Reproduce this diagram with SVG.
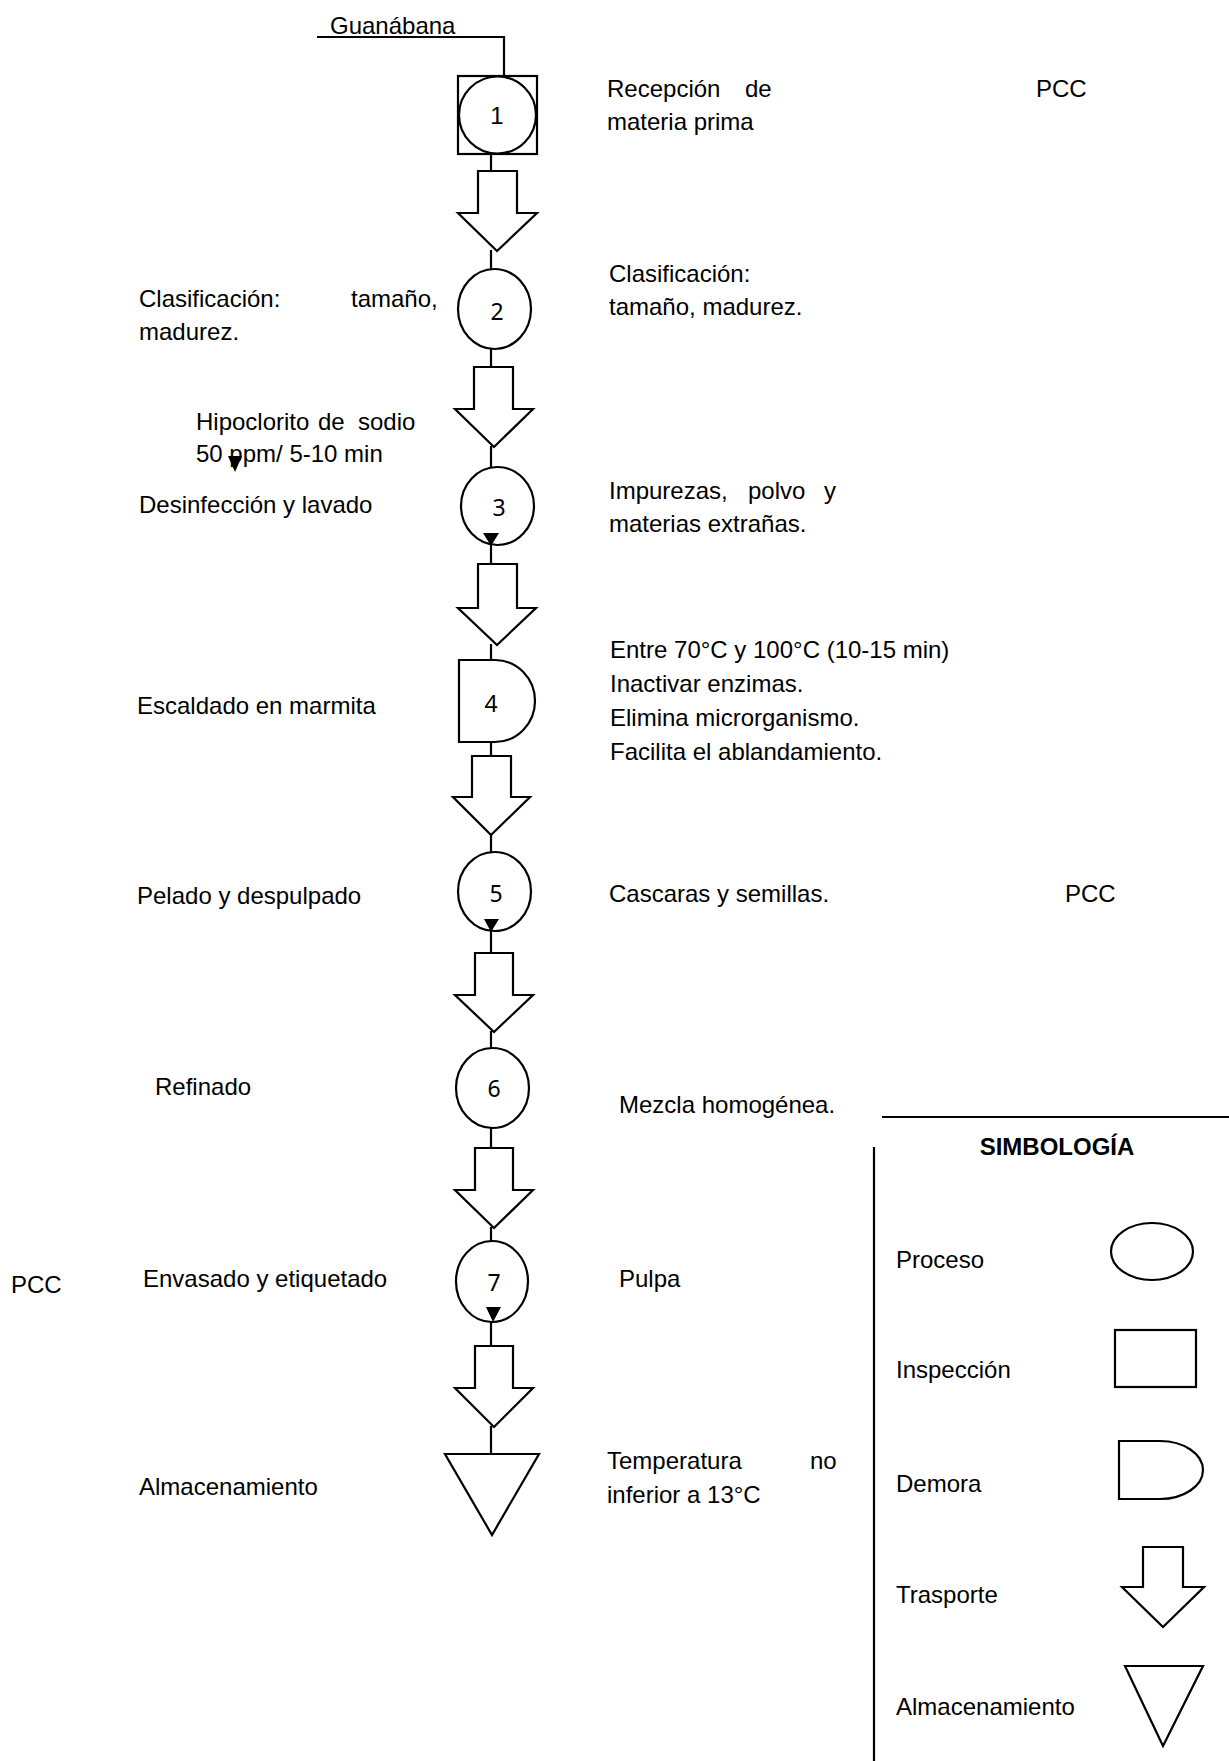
<svg xmlns="http://www.w3.org/2000/svg" width="1229" height="1761" viewBox="0 0 1229 1761">
<style>
text{font-family:"Liberation Sans",Arial,sans-serif;font-size:24px;fill:#000}
.num{font-family:"Noto Sans","DejaVu Sans",sans-serif;font-size:23px;text-anchor:middle}
.num1{font-family:"Liberation Sans",Arial,sans-serif;font-size:24px;text-anchor:middle}
.shape{fill:#fff;stroke:#000;stroke-width:2.2}
.conn{fill:none;stroke:#000;stroke-width:2.2}
.mk{fill:#000;stroke:none}
.bold{font-weight:bold;text-anchor:middle}
</style>
<rect width="1229" height="1761" fill="#fff"/>

<g id="connectors">
<polyline class="conn" points="317,37 504,37 504,76"/>
<line class="conn" x1="491" y1="154" x2="491" y2="171"/>
<line class="conn" x1="491" y1="250" x2="491" y2="269"/>
<line class="conn" x1="491" y1="349" x2="491" y2="367"/>
<line class="conn" x1="491" y1="446" x2="491" y2="467"/>
<line class="conn" x1="491" y1="545" x2="491" y2="564"/>
<line class="conn" x1="491" y1="644" x2="491" y2="660"/>
<line class="conn" x1="491" y1="742" x2="491" y2="756"/>
<line class="conn" x1="491" y1="834" x2="491" y2="852"/>
<line class="conn" x1="491" y1="931" x2="491" y2="953"/>
<line class="conn" x1="491" y1="1031" x2="491" y2="1048"/>
<line class="conn" x1="491" y1="1128" x2="491" y2="1148"/>
<line class="conn" x1="491" y1="1227" x2="491" y2="1241"/>
<line class="conn" x1="491" y1="1322" x2="491" y2="1346"/>
<line class="conn" x1="491" y1="1426" x2="491" y2="1454"/>
</g>

<g id="label-guanabana"><text x="330" y="34">Guanábana</text></g>

<g id="node1">
<rect class="shape" x="458" y="76" width="79" height="78"/>
<circle class="shape" cx="497.5" cy="115" r="38.5"/>
<text class="num1" x="497" y="124">1</text>
</g>
<g id="transport1"><polygon class="shape" points="478,171 517,171 517,213 537,213 497,251 458,213 478,213"/></g>

<g id="node2">
<ellipse class="shape" cx="494.5" cy="309" rx="36.5" ry="40"/>
<text class="num" x="497" y="320">2</text>
</g>
<g id="transport2"><polygon class="shape" points="474,367 513,367 513,409 533,409 494,447 455,409 474,409"/></g>

<g id="node3">
<ellipse class="shape" cx="497.5" cy="506" rx="36.5" ry="39"/>
<text class="num" x="499" y="516">3</text>
<polygon class="mk" points="483,533 499,533 491,546"/>
</g>
<g id="transport3"><polygon class="shape" points="478,564 517,564 517,608 536,608 497,645 458,608 478,608"/></g>

<g id="node4">
<path class="shape" d="M459,660 H495 A40,41 0 0 1 495,742 H459 Z"/>
<text class="num" x="491" y="712">4</text>
</g>
<g id="transport4"><polygon class="shape" points="472,756 511,756 511,797 530,797 491,835 453,797 472,797"/></g>

<g id="node5">
<ellipse class="shape" cx="494.5" cy="891.5" rx="36.5" ry="39.5"/>
<text class="num" x="496" y="902">5</text>
<polygon class="mk" points="484,919 499,919 491,932"/>
</g>
<g id="transport5"><polygon class="shape" points="475,953 513,953 513,995 533,995 494,1032 455,995 475,995"/></g>

<g id="node6">
<ellipse class="shape" cx="492.5" cy="1088" rx="36.5" ry="40"/>
<text class="num" x="494" y="1097">6</text>
</g>
<g id="transport6"><polygon class="shape" points="475,1148 513,1148 513,1190 533,1190 494,1228 455,1190 475,1190"/></g>

<g id="node7">
<ellipse class="shape" cx="492" cy="1281.5" rx="36" ry="40.5"/>
<text class="num" x="494" y="1291">7</text>
<polygon class="mk" points="486,1307 501,1307 493,1322"/>
</g>
<g id="transport7"><polygon class="shape" points="475,1346 513,1346 513,1388 533,1388 494,1427 455,1388 475,1388"/></g>

<g id="node8"><polygon class="shape" points="445,1454 539,1454 492,1535"/></g>

<g id="labels-right">
<text x="607" y="97">Recepción</text><text x="745" y="97">de</text>
<text x="1036" y="97">PCC</text>
<text x="607" y="130">materia prima</text>
<text x="609" y="282">Clasificación:</text>
<text x="609" y="315">tamaño, madurez.</text>
<text x="609" y="499">Impurezas,</text><text x="748" y="499">polvo</text><text x="824" y="499">y</text>
<text x="609" y="532">materias extrañas.</text>
<text x="610" y="658">Entre 70°C y 100°C (10-15 min)</text>
<text x="610" y="692">Inactivar enzimas.</text>
<text x="610" y="726">Elimina microrganismo.</text>
<text x="610" y="760">Facilita el ablandamiento.</text>
<text x="609" y="902">Cascaras y semillas.</text>
<text x="1065" y="902">PCC</text>
<text x="619" y="1113">Mezcla homogénea.</text>
<text x="619" y="1287">Pulpa</text>
<text x="607" y="1469">Temperatura</text><text x="810" y="1469">no</text>
<text x="607" y="1503">inferior a 13°C</text>
</g>

<g id="labels-left">
<text x="139" y="307">Clasificación:</text><text x="351" y="307">tamaño,</text>
<text x="139" y="340">madurez.</text>
<text x="196" y="430">Hipoclorito</text><text x="318" y="430">de</text><text x="358" y="430">sodio</text>
<text x="196" y="462">50 ppm/ 5-10 min</text>
<polygon class="mk" points="228,456 242,456 235,472"/>
<text x="139" y="513">Desinfección y lavado</text>
<text x="137" y="714">Escaldado en marmita</text>
<text x="137" y="904">Pelado y despulpado</text>
<text x="155" y="1095">Refinado</text>
<text x="11" y="1293">PCC</text>
<text x="143" y="1287">Envasado y etiquetado</text>
<text x="139" y="1495">Almacenamiento</text>
</g>

<g id="legend">
<line class="conn" x1="882" y1="1117" x2="1229" y2="1117"/>
<line class="conn" x1="874" y1="1147" x2="874" y2="1761"/>
<text class="bold" x="1057" y="1155">SIMBOLOGÍA</text>
<text x="896" y="1268">Proceso</text>
<ellipse class="shape" cx="1152" cy="1251.5" rx="41" ry="28.5"/>
<text x="896" y="1378">Inspección</text>
<rect class="shape" x="1115" y="1330" width="81" height="57"/>
<text x="896" y="1492">Demora</text>
<path class="shape" d="M1119,1441 H1160 A43,29 0 0 1 1160,1499 H1119 Z"/>
<text x="896" y="1603">Trasporte</text>
<polygon class="shape" points="1143,1547 1183,1547 1183,1587 1204,1587 1163,1627 1122,1587 1143,1587"/>
<text x="896" y="1715">Almacenamiento</text>
<polygon class="shape" points="1125,1666 1203,1666 1163,1746"/>
</g>
</svg>
